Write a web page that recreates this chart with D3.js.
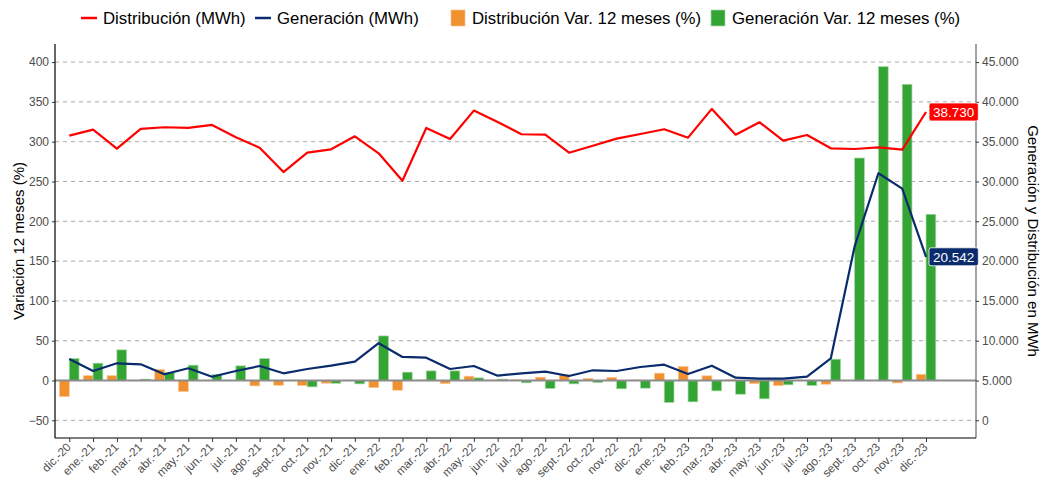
<!DOCTYPE html>
<html><head><meta charset="utf-8">
<script src="https://cdn.jsdelivr.net/npm/d3@7"></script>
<style>
body{margin:0;background:#fff;}
text{font-family:"Liberation Sans",Arial,sans-serif;}
</style></head>
<body><svg id="chart" width="1041" height="479"></svg>
<script>
const months = ["dic.-20","ene.-21","feb.-21","mar.-21","abr.-21","may.-21","jun.-21","jul.-21","ago.-21","sept.-21","oct.-21","nov.-21","dic.-21",
"ene.-22","feb.-22","mar.-22","abr.-22","may.-22","jun.-22","jul.-22","ago.-22","sept.-22","oct.-22","nov.-22","dic.-22",
"ene.-23","feb.-23","mar.-23","abr.-23","may.-23","jun.-23","jul.-23","ago.-23","sept.-23","oct.-23","nov.-23","dic.-23"];
const distMWh = [35755,36511,34119,36599,36813,36725,37103,35554,34245,31185,33615,34043,35680,
33540,30090,36725,35340,38903,37480,35932,35881,33615,34496,35378,35970,
36561,35504,39117,35881,37442,35126,35844,34169,34081,34295,33993,38730];
const genMWh = [7707,6196,7165,7040,5781,6536,5478,6196,6826,5906,6448,6863,7367,
9683,7959,7871,6448,6826,5604,5906,6108,5567,6284,6196,6700,
6989,5818,6863,5353,5227,5227,5478,7795,21845,31036,29110,20542];
const distVar = [-20,6,6,0,13.8,-13.8,0,0,-6.7,-5.9,-6.3,-3.3,0,
-8.8,-12.1,0.5,-3.8,5.4,0.5,1,4.2,7.5,2.5,3.8,0.5,
9.2,17.6,5.9,1,-3.8,-6.3,0,-4.6,0,0,-3,7.8];
const genVar = [27.6,21.8,38.5,1.7,10,19.3,7.5,18.4,27.6,0,-8,-3.5,-4.2,
56,10.5,12.1,12.1,3.3,1.7,-2.9,-10,-4.2,-2.5,-10.4,-9.6,
-27.6,-26.8,-13,-17.2,-23,-5.4,-6.3,26.8,279.5,394.2,372.1,208.8];
const leftTicks = [-50,0,50,100,150,200,250,300,350,400];
const rightTicks = [0,5000,10000,15000,20000,25000,30000,35000,40000,45000];
const legendItems = ["Distribución (MWh)","Generación (MWh)","Distribución Var. 12 meses (%)","Generación Var. 12 meses (%)"];

const C = {red:"#ff0000", navy:"#0a2b6c", orange:"#f0902e", green:"#34a534"};
const L = 55, R = 976, T = 44, B = 438;
const svg = d3.select("#chart");

const x = d3.scaleLinear().domain([-0.6, 38.1]).range([L, R]);
const yL = d3.scaleLinear().domain([-72.2, 422.7]).range([B, T]);
const yR = d3.scaleLinear().domain([5000 - 7220, 5000 + 42270]).range([B, T]);
const fmt = d3.formatLocale({decimal:",", thousands:".", grouping:[3], currency:["",""]}).format(",.0f");

// grid
svg.append("g").selectAll("line").data(leftTicks.filter(d => d !== 0)).join("line")
  .attr("x1", L).attr("x2", R).attr("y1", d => yL(d)).attr("y2", d => yL(d))
  .attr("stroke", "#a6a6a6").attr("stroke-width", 1).attr("stroke-dasharray", "4,4");

// bars
const bw = x(0.41) - x(0);
const bars = svg.append("g");
bars.selectAll("rect.o").data(distVar).join("rect").attr("class","o")
  .attr("x", (d,i) => x(i) - bw).attr("width", bw)
  .attr("y", d => yL(Math.max(0,d))).attr("height", d => Math.abs(yL(d) - yL(0)))
  .attr("fill", C.orange).attr("stroke", "#f7c48f").attr("stroke-width", 0.7);
bars.selectAll("rect.g").data(genVar).join("rect").attr("class","g")
  .attr("x", (d,i) => x(i)).attr("width", bw)
  .attr("y", d => yL(Math.max(0,d))).attr("height", d => Math.abs(yL(d) - yL(0)))
  .attr("fill", C.green).attr("stroke", "#a5d9a5").attr("stroke-width", 0.7);

// zero line
svg.append("line").attr("x1", L).attr("x2", R).attr("y1", yL(0)).attr("y2", yL(0))
  .attr("stroke", "#8c8c8c").attr("stroke-width", 1.8);

// lines
const lineR = d3.line().x((d,i) => x(i)).y(d => yR(d));
svg.append("path").datum(distMWh).attr("d", lineR).attr("fill","none")
  .attr("stroke", C.red).attr("stroke-width", 2.2).attr("stroke-linejoin","round");
svg.append("path").datum(genMWh).attr("d", lineR).attr("fill","none")
  .attr("stroke", C.navy).attr("stroke-width", 2.2).attr("stroke-linejoin","round");

// axes
const axL = svg.append("g").attr("transform", `translate(${L},0)`)
  .call(d3.axisLeft(yL).tickValues(leftTicks).tickSize(3).tickPadding(3));
const axR = svg.append("g").attr("transform", `translate(${R},0)`)
  .call(d3.axisRight(yR).tickValues(rightTicks).tickSize(3).tickPadding(3).tickFormat(d => fmt(d)));
const axB = svg.append("g").attr("transform", `translate(0,${B})`)
  .call(d3.axisBottom(x).tickValues(d3.range(months.length)).tickSize(4).tickFormat(i => months[i]));
[axL, axR, axB].forEach(a => {
  a.selectAll("text").attr("font-size", 12).attr("fill", "#4d4d4d").attr("font-family","Liberation Sans, Arial, sans-serif");
  a.selectAll(".tick line").attr("stroke", "#333");
});
axL.select(".domain").attr("stroke", "#000").attr("stroke-width", 1.2).attr("d", `M0,${T}V${B}`);
axR.select(".domain").attr("stroke", "#666").attr("stroke-width", 1.2).attr("d", `M0,${T}V${B}`);
axB.select(".domain").attr("stroke", "#000").attr("stroke-width", 1.2).attr("d", `M${L},0H${R}`);
axB.selectAll(".tick text").attr("text-anchor", "end").attr("x", 0).attr("y", 0)
  .attr("font-size", 11.7).attr("dy", "0.35em").attr("transform", "translate(-1,7) rotate(-45)");

// value labels
function label(val, color, yv) {
  const g = svg.append("g").attr("transform", `translate(${x(36) + 3},${yR(yv)})`);
  const t = g.append("text").text(fmt(val)).attr("x", 4).attr("y", 0).attr("dy", "0.36em")
    .attr("font-size", 13.5).attr("fill", "#fff");
  const bb = t.node().getBBox();
  g.insert("rect", "text").attr("x", 0).attr("y", -9).attr("width", bb.width + 8).attr("height", 18)
    .attr("rx", 2).attr("fill", color).attr("stroke", "#fff").attr("stroke-width", 0.8);
}
label(distMWh[36], C.red, distMWh[36]);
label(genMWh[36], C.navy, genMWh[36]);

// axis titles
svg.append("text").attr("transform", `translate(19,${(T+B)/2}) rotate(-90)`).attr("text-anchor","middle")
  .attr("dy", "0.35em").attr("font-size", 15).attr("fill", "#000").text("Variación 12 meses (%)");
svg.append("text").attr("transform", `translate(1033,${(T+B)/2}) rotate(90)`).attr("text-anchor","middle")
  .attr("dy", "0.35em").attr("font-size", 15).attr("fill", "#000").text("Generación y Distribución en MWh");

// legend
const lg = svg.append("g").attr("transform", "translate(0,18)");
const lx = [81, 255, 451, 711];
const kinds = ["line","line","rect","rect"];
const cols = [C.red, C.navy, C.orange, C.green];
legendItems.forEach((txt, k) => {
  if (kinds[k] === "line") {
    lg.append("line").attr("x1", lx[k]).attr("x2", lx[k] + 16).attr("y1", 0).attr("y2", 0)
      .attr("stroke", cols[k]).attr("stroke-width", 2.5);
  } else {
    lg.append("rect").attr("x", lx[k]).attr("y", -8).attr("width", 14).attr("height", 16)
      .attr("fill", cols[k]).attr("stroke", k === 2 ? "#f7c48f" : "#a5d9a5").attr("stroke-width", 0.7);
  }
  lg.append("text").attr("x", lx[k] + (kinds[k] === "line" ? 22 : 21)).attr("y", 0).attr("dy", "0.36em")
    .attr("font-size", 16.8).attr("fill", "#000").text(txt);
});
</script></body></html>
